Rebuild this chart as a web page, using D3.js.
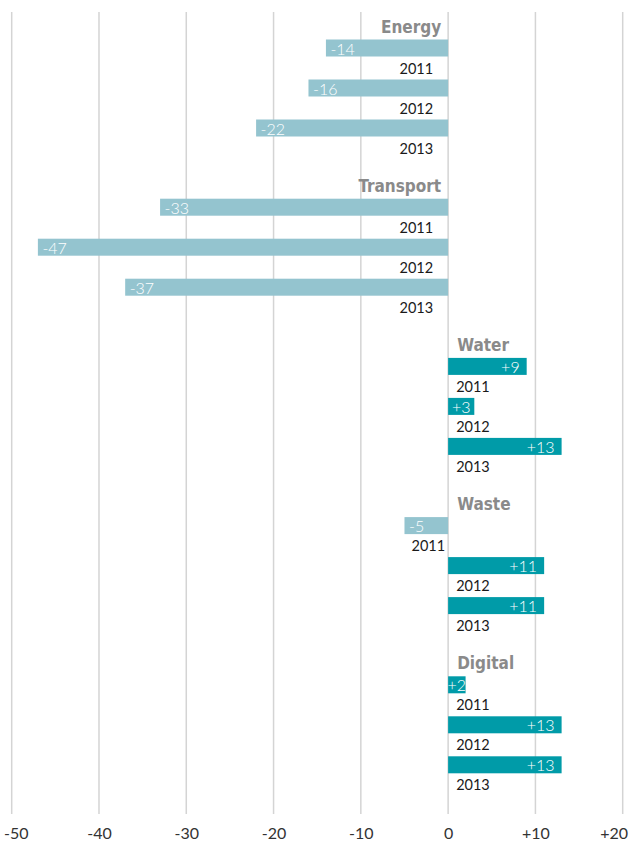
<!DOCTYPE html>
<html>
<head>
<meta charset="utf-8">
<script src="https://cdn.jsdelivr.net/npm/d3@7"></script>
<style>
  html, body { margin: 0; padding: 0; background: #fff; }
  svg { display: block; }
  .grid line { stroke: #d4d4d4; stroke-width: 1.5; }
  .head { font-family: "Liberation Sans Narrow", "DejaVu Sans Condensed", "Roboto", sans-serif; font-weight: bold; font-size: 17px; fill: #8a8a8a; }
  .year { font-family: "Lato", "Open Sans", sans-serif; font-size: 14.5px; fill: #1a1a1a; }
  .val { font-family: "Lato", "Open Sans", sans-serif; font-weight: 300; font-size: 16px; fill: #fff; }
  .tick text { font-family: "Lato", "Open Sans", sans-serif; font-size: 16px; fill: #333; }
</style>
</head>
<body>
<svg id="chart" width="630" height="844"></svg>
<script>
// Sectors and reporting years
const categories = ["Energy", "Transport", "Water", "Waste", "Digital"];
const years = ["2011", "2012", "2013"];

// Change per sector and year (one array per sector, in year order)
const energy    = [-14, -16, -22];
const transport = [-33, -47, -37];
const water     = [9, 3, 13];
const waste     = [-5, 11, 11];
const digital   = [2, 13, 13];
const seriesValues = [energy, transport, water, waste, digital];

// Axis ticks
const tickValues = [-50, -40, -30, -20, -10, 0, 10, 20];

const fmt = d => d > 0 ? "+" + d : String(d);

const W = 630, H = 844;
const svg = d3.select("#chart");

const x = d3.scaleLinear().domain([-50, 20]).range([11.7, 622.7]);

const gridTop = 12, gridBottom = 814;
const groupStep = 159.2;
const yGroup = d3.scaleBand()
  .domain(categories)
  .range([39.5, 39.5 + groupStep * categories.length])
  .paddingInner(0).paddingOuter(0);
const yYear = d3.scaleBand().domain(years).range([0, 120]);
const barH = 17;

const negColor = "#94c4cf";
const posColor = "#009ba8";

// vertical gridlines
svg.append("g").attr("class", "grid")
  .selectAll("line").data(tickValues).join("line")
  .attr("x1", d => x(d)).attr("x2", d => x(d))
  .attr("y1", gridTop).attr("y2", gridBottom);

// bottom axis labels
const axis = svg.append("g")
  .attr("transform", `translate(0,${gridBottom})`)
  .call(d3.axisBottom(x).tickValues(tickValues).tickSize(0).tickPadding(14).tickFormat(fmt));
axis.select(".domain").remove();
// keep the outermost labels inside the page
axis.selectAll(".tick text").each(function () {
  const t = d3.select(this);
  const bb = this.getBBox();
  const tx = +d3.select(this.parentNode).attr("transform").match(/translate\(([-\d.]+)/)[1];
  const left = tx + bb.x, right = tx + bb.x + bb.width;
  if (left < 4) t.attr("dx", 4 - left);
  if (right > W - 2) t.attr("dx", (W - 2) - right);
});

const x0 = x(0);
const rows = [];
categories.forEach((c, i) => {
  seriesValues[i].forEach((v, j) => rows.push({ cat: c, year: years[j], value: v, groupNeg: d3.sum(seriesValues[i]) < 0 }));
});

const g = svg.append("g");

// sector headings
g.selectAll("text.head").data(categories).join("text")
  .attr("class", "head")
  .attr("y", c => yGroup(c) - 7)
  .attr("x", (c, i) => d3.sum(seriesValues[i]) < 0 ? x0 - 7 : x0 + 9)
  .attr("text-anchor", (c, i) => d3.sum(seriesValues[i]) < 0 ? "end" : "start")
  .text(c => c);

const rowTop = d => yGroup(d.cat) + yYear(d.year);

// bars
g.selectAll("rect.bar").data(rows).join("rect")
  .attr("class", "bar")
  .attr("x", d => Math.min(x(d.value), x0))
  .attr("width", d => Math.abs(x(d.value) - x0))
  .attr("y", rowTop)
  .attr("height", barH)
  .attr("fill", d => d.value < 0 ? negColor : posColor);

// value labels inside bars
g.selectAll("text.val").data(rows).join("text")
  .attr("class", "val")
  .attr("y", d => rowTop(d) + 15)
  .text(d => fmt(d.value))
  .each(function (d) {
    const tw = this.getComputedTextLength();
    const bw = Math.abs(x(d.value) - x0);
    const t = d3.select(this);
    if (d.value < 0) {
      const pad = Math.min(4.5, (bw - tw) / 2);
      t.attr("x", x(d.value) + pad).attr("text-anchor", "start");
    } else {
      const pad = Math.min(7, (bw - tw) / 2);
      t.attr("x", x(d.value) - pad).attr("text-anchor", "end");
    }
  });

// year labels below bars
g.selectAll("text.year").data(rows).join("text")
  .attr("class", "year")
  .attr("y", d => rowTop(d) + 34)
  .attr("x", d => d.value < 0 ? x0 - (d.groupNeg ? 15 : 3) : x0 + 8)
  .attr("text-anchor", d => d.value < 0 ? "end" : "start")
  .text(d => d.year);
</script>
</body>
</html>
